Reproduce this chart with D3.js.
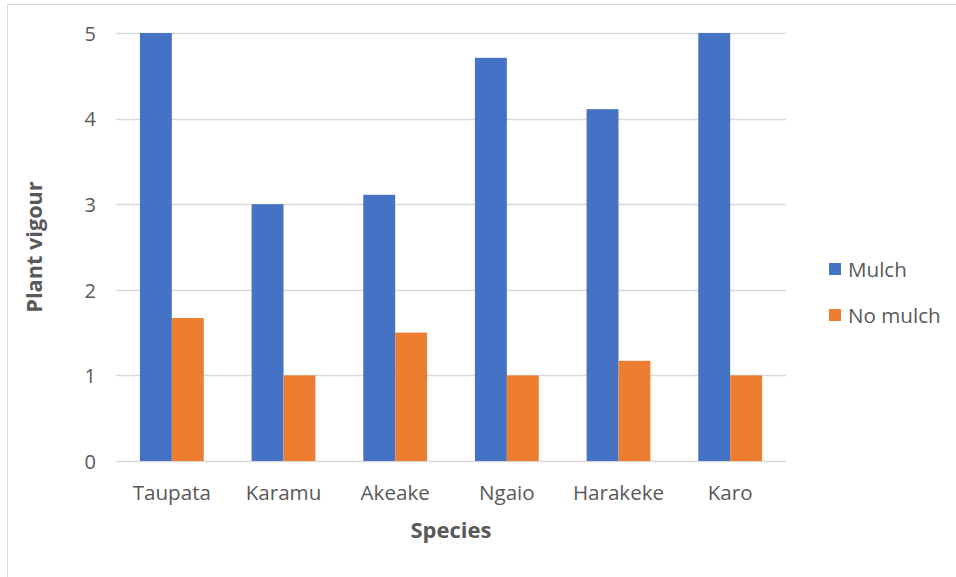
<!DOCTYPE html>
<html>
<head>
<meta charset="utf-8">
<script src="https://cdn.jsdelivr.net/npm/d3@7"></script>
<style>
  html, body { margin: 0; padding: 0; background: #fff; }
  svg { display: block; font-family: "Open Sans", sans-serif; }
</style>
</head>
<body>
<svg id="chart" width="956" height="577"></svg>
<script>
// Plant vigour by species, with and without mulch
const species = ["Taupata", "Karamu", "Akeake", "Ngaio", "Harakeke", "Karo"];
const seriesNames = ["Mulch", "No mulch"];
const mulch = [5, 3, 3.11, 4.71, 4.11, 5];
const noMulch = [1.67, 1, 1.5, 1, 1.17, 1];
const yTicks = [0, 1, 2, 3, 4, 5];
const colors = ["#4472C4", "#ED7D31"];

const svg = d3.select("#chart");
const margin = { left: 116, right: 170, top: 33, bottom: 116 };
const W = 956, H = 577;
const textColor = "#595959";

// chart frame
svg.append("rect")
  .attr("x", 7.5).attr("y", 4.5)
  .attr("width", W + 10).attr("height", H + 10)
  .attr("fill", "#fff").attr("stroke", "#d9d9d9").attr("stroke-width", 1);

const x = d3.scaleBand().domain(species).range([margin.left, W - margin.right]).paddingInner(0).paddingOuter(0);
const inner = d3.scaleBand().domain(seriesNames).range([0, x.bandwidth()]).paddingInner(0).paddingOuter(0.75);
const y = d3.scaleLinear().domain([0, 5]).range([H - margin.bottom, margin.top]);

// gridlines
svg.append("g").selectAll("line").data(yTicks).join("line")
  .attr("x1", margin.left).attr("x2", W - margin.right)
  .attr("y1", d => Math.round(y(d)) + 0.5).attr("y2", d => Math.round(y(d)) + 0.5)
  .attr("stroke", "#d9d9d9").attr("stroke-width", 1.3);

// y tick labels
const yAxis = d3.axisLeft(y).tickValues(yTicks).tickSize(0).tickPadding(0).tickFormat(d3.format("d"));
const gy = svg.append("g").attr("transform", `translate(${margin.left - 20},0)`).call(yAxis);
gy.select(".domain").remove();
gy.selectAll("text").attr("fill", textColor).attr("dy", "0.36em")
  .style("font-size", "20px").style("font-family", "'Open Sans', sans-serif");

// bars
const rows = species.map((s, i) => ({ s, vals: [mulch[i], noMulch[i]] }));
const groups = svg.append("g").selectAll("g").data(rows).join("g")
  .attr("transform", d => `translate(${x(d.s)},0)`);
groups.selectAll("rect").data(d => d.vals.map((v, j) => ({ v, name: seriesNames[j], j })))
  .join("rect")
  .attr("x", d => inner(d.name))
  .attr("width", inner.bandwidth())
  .attr("y", d => y(d.v))
  .attr("height", d => y(0) - y(d.v))
  .attr("fill", d => colors[d.j]);

// x axis labels
const xAxis = d3.axisBottom(x).tickSize(0).tickPadding(0);
const gx = svg.append("g").attr("transform", `translate(0,${y(0) + 39})`).call(xAxis);
gx.select(".domain").remove();
gx.selectAll("text").attr("fill", textColor).attr("dy", 0)
  .style("font-size", "20.6px").style("font-family", "'Open Sans', sans-serif");

// axis titles
svg.append("text")
  .attr("x", (margin.left + W - margin.right) / 2).attr("y", 538)
  .attr("text-anchor", "middle").attr("fill", textColor)
  .style("font-size", "22px").style("font-weight", "bold")
  .text("Species");
svg.append("text")
  .attr("transform", `translate(42,${(margin.top + H - margin.bottom) / 2}) rotate(-90)`)
  .attr("text-anchor", "middle").attr("fill", textColor)
  .style("font-size", "21.7px").style("font-weight", "bold")
  .text("Plant vigour");

// legend
const legend = svg.append("g").attr("transform", "translate(829,263)");
const li = legend.selectAll("g").data(seriesNames).join("g")
  .attr("transform", (d, i) => `translate(0,${i * 46})`);
li.append("rect").attr("width", 12).attr("height", 12).attr("fill", (d, i) => colors[i]);
li.append("text").attr("x", 19).attr("y", 13.5).attr("fill", textColor)
  .style("font-size", "20.6px").text(d => d);
</script>
</body>
</html>
